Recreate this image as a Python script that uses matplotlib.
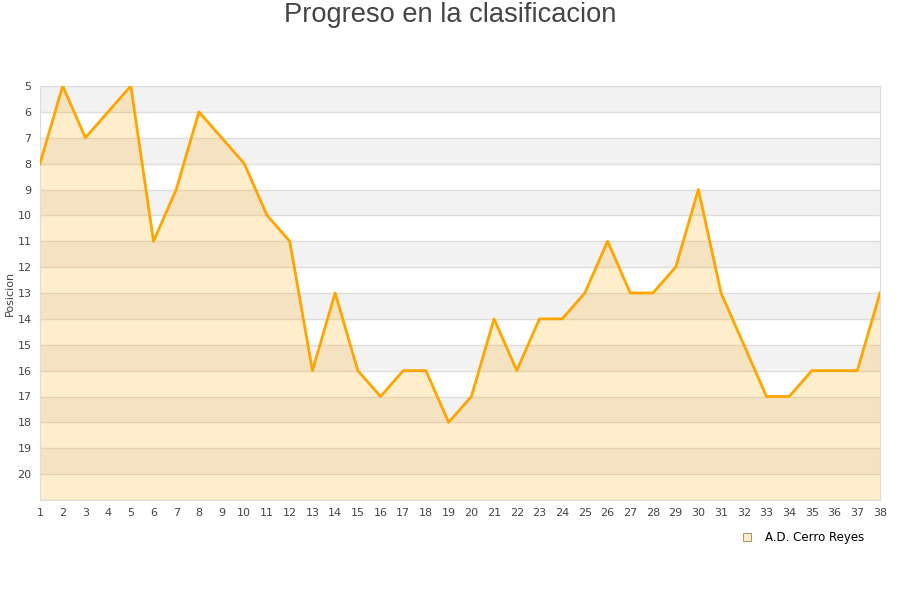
import matplotlib.pyplot as plt
from matplotlib.lines import Line2D

# Jornadas y posicion del equipo
jornadas = list(range(1, 39))
posicion = [8, 5, 7, 6, 5, 11, 9, 6, 7, 8, 10, 11, 16, 13, 16, 17, 16, 16, 18, 17,
            14, 16, 14, 14, 13, 11, 13, 13, 12, 9, 13, 15, 17, 17, 16, 16, 16, 13]
y_ticks = list(range(5, 21))
equipo = 'A.D. Cerro Reyes'

fig = plt.figure(figsize=(9, 6), dpi=100)
ax = fig.add_axes([40 / 900, 1 - 500 / 600, 840 / 900, 414 / 600])

ymin, ymax = 5, 21
# bandas alternas grises
for y in range(ymin, ymax, 2):
    ax.axhspan(y, y + 1, color='#f2f2f2', zorder=0, lw=0)
for y in range(ymin, ymax + 1):
    ax.axhline(y, color='#dddddd', lw=1, zorder=1)

ax.fill_between(jornadas, posicion, ymax, color='orange', alpha=0.2, lw=0, zorder=2)
ax.plot(jornadas, posicion, color='orange', lw=2, zorder=3)

ax.set_xlim(1, 38)
ax.set_ylim(ymax, ymin)
ax.set_xticks(jornadas)
ax.set_yticks(y_ticks)
ax.tick_params(length=0, labelsize=8, colors='#444444', pad=6)
for s in ['top', 'right', 'left', 'bottom']:
    ax.spines[s].set_color('#dddddd')

ax.set_ylabel('Posicion', fontsize=8, color='#444444', labelpad=2)
fig.text(0.5, 0.997, 'Progreso en la clasificacion', ha='center', va='top',
         fontsize=19.6, color='#444444', family='Liberation Sans')

handle = Line2D([], [], marker='s', ls='none', markersize=6,
                markerfacecolor='#ffedcc', markeredgecolor='#aa9977', markeredgewidth=0.8)
fig.legend([handle], [equipo], loc='center', bbox_to_anchor=(800 / 900, 1 - 538 / 600),
           frameon=False, fontsize=8.5, handletextpad=0.5)

plt.savefig('out.png', dpi=100)
